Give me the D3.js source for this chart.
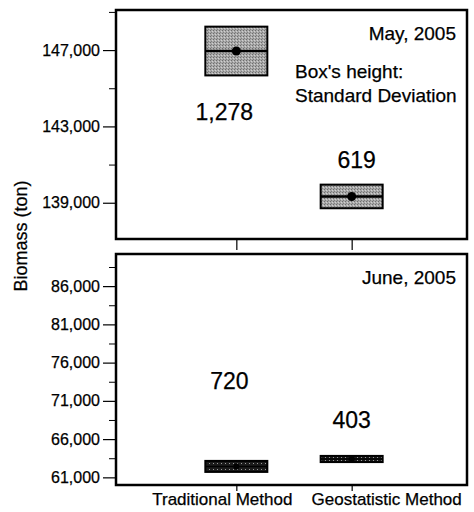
<!DOCTYPE html>
<html>
<head>
<meta charset="utf-8">
<script src="https://cdn.jsdelivr.net/npm/d3@7/dist/d3.min.js"></script>
<style>
  html, body { margin: 0; padding: 0; background: #fff; }
  svg { display: block; font-family: "Liberation Sans", Arial, sans-serif; }
  svg text { fill: #000; stroke: #000; stroke-width: 0.25px; }
</style>
</head>
<body>
<svg id="chart" width="474" height="512"></svg>
<script>
// ---- data ----
const categories = ["Traditional Method", "Geostatistic Method"];
const mayMeans = [146950, 139330];
const maySD = [1278, 619];
const juneMeans = [62430, 63400];
const juneSD = [720, 403];
const mayTicks = [139000, 143000, 147000];
const mayMinorTicks = [141000, 145000, 149000];
const juneTicks = [61000, 66000, 71000, 76000, 81000, 86000];
const juneMinorTicks = [63500, 68500, 73500, 78500, 83500, 88500];
const panelTitles = ["May, 2005", "June, 2005"];
const noteLines = ["Box's height:", "Standard Deviation"];
const yTitle = "Biomass (ton)";

const svg = d3.select("#chart");
const fmt = d3.format(",");

const left = 116, right = 467;
const x = d3.scalePoint().domain(categories).range([121, right]).padding(1);

// patterns
const defs = svg.append("defs");
const pg = defs.append("pattern").attr("id", "grayTex").attr("patternUnits", "userSpaceOnUse")
  .attr("width", 3).attr("height", 3);
pg.append("rect").attr("width", 3).attr("height", 3).attr("fill", "#a9a9a9");
pg.append("rect").attr("x", 0).attr("y", 0).attr("width", 1).attr("height", 1).attr("fill", "#6e6e6e");
pg.append("rect").attr("x", 2).attr("y", 1).attr("width", 1).attr("height", 1).attr("fill", "#d0d0d0");
pg.append("rect").attr("x", 1).attr("y", 2).attr("width", 1).attr("height", 1).attr("fill", "#808080");
const pd = defs.append("pattern").attr("id", "darkTex").attr("patternUnits", "userSpaceOnUse")
  .attr("width", 4).attr("height", 3);
pd.append("rect").attr("width", 4).attr("height", 3).attr("fill", "#1c1c1c");
pd.append("rect").attr("x", 1).attr("y", 1).attr("width", 1).attr("height", 1).attr("fill", "#9a9a9a");

const panels = [
  { top: 10, bottom: 239, domain: [137100, 149100], ticks: mayTicks, minor: mayMinorTicks,
    means: mayMeans, sd: maySD, fill: "url(#grayTex)", xTick: 11, title: panelTitles[0] },
  { top: 254, bottom: 485, domain: [60000, 90200], ticks: juneTicks, minor: juneMinorTicks,
    means: juneMeans, sd: juneSD, fill: "url(#darkTex)", xTick: 6, title: panelTitles[1] }
];

panels.forEach((p, pi) => {
  const y = d3.scaleLinear().domain(p.domain).range([p.bottom, p.top]);
  p.y = y;
  const g = svg.append("g");

  // minor ticks
  g.append("g").attr("transform", `translate(${left},0)`)
    .call(d3.axisLeft(y).tickValues(p.minor).tickSize(7).tickFormat(""))
    .call(a => a.select(".domain").remove())
    .call(a => a.selectAll("line").attr("stroke", "#000").attr("stroke-width", 1));
  // major ticks
  g.append("g").attr("transform", `translate(${left},0)`)
    .call(d3.axisLeft(y).tickValues(p.ticks).tickSize(13).tickPadding(3).tickFormat(fmt))
    .call(a => a.select(".domain").remove())
    .call(a => a.selectAll("line").attr("stroke", "#000").attr("stroke-width", 1.2))
    .call(a => a.selectAll("text").attr("font-size", 16)
      .attr("font-family", '"Liberation Sans", Arial, sans-serif'));
  // x ticks
  g.append("g").attr("transform", `translate(0,${p.bottom})`)
    .call(d3.axisBottom(x).tickSize(p.xTick).tickFormat(""))
    .call(a => a.select(".domain").remove())
    .call(a => a.selectAll("line").attr("stroke", "#000").attr("stroke-width", 1.2));

  // boxes
  const bw = 62;
  categories.forEach((c, i) => {
    const m = p.means[i], s = p.sd[i];
    const cx = x(c);
    g.append("rect")
      .attr("x", cx - bw / 2).attr("y", y(m + s))
      .attr("width", bw).attr("height", y(m - s) - y(m + s))
      .attr("fill", p.fill).attr("stroke", "#000").attr("stroke-width", 2);
    g.append("line")
      .attr("x1", cx - bw / 2).attr("x2", cx + bw / 2)
      .attr("y1", y(m)).attr("y2", y(m))
      .attr("stroke", "#000").attr("stroke-width", pi === 0 ? 2.5 : 1.5);
    g.append("circle").attr("cx", cx).attr("cy", y(m)).attr("r", pi === 0 ? 4.5 : 3)
      .attr("fill", "#000");
  });

  // frame
  g.append("rect").attr("x", left).attr("y", p.top)
    .attr("width", right - left).attr("height", p.bottom - p.top)
    .attr("fill", "none").attr("stroke", "#000").attr("stroke-width", 2.5);

  // panel title
  g.append("text").attr("x", 456).attr("y", p.top + 30)
    .attr("text-anchor", "end").attr("font-size", 19).text(p.title);
});

// SD value labels
const pTop = panels[0], pBot = panels[1];
const sdLabel = (txt, xx, yy) => svg.append("text").attr("x", xx).attr("y", yy)
  .attr("text-anchor", "middle").attr("font-size", 23).text(txt);
sdLabel(fmt(maySD[0]), x(categories[0]) - 12, pTop.y(mayMeans[0]) + 69);
sdLabel(fmt(maySD[1]), x(categories[1]) + 5, pTop.y(mayMeans[1]) - 28);
sdLabel(fmt(juneSD[0]), x(categories[0]) - 7, pBot.y(juneMeans[0]) - 77);
sdLabel(fmt(juneSD[1]), x(categories[1]), pBot.y(juneMeans[1]) - 31);

// note
noteLines.forEach((t, i) => {
  svg.append("text").attr("x", 295).attr("y", 78 + i * 24)
    .attr("font-size", 19).text(t);
});

// category labels
const labOff = [-14, 35];
categories.forEach((c, i) => {
  svg.append("text").attr("x", x(c) + labOff[i]).attr("y", 505)
    .attr("text-anchor", "middle").attr("font-size", 17).text(c);
});

// y title
svg.append("text").attr("transform", "translate(27,236) rotate(-90)")
  .attr("text-anchor", "middle").attr("font-size", 18).text(yTitle);
</script>
</body>
</html>
